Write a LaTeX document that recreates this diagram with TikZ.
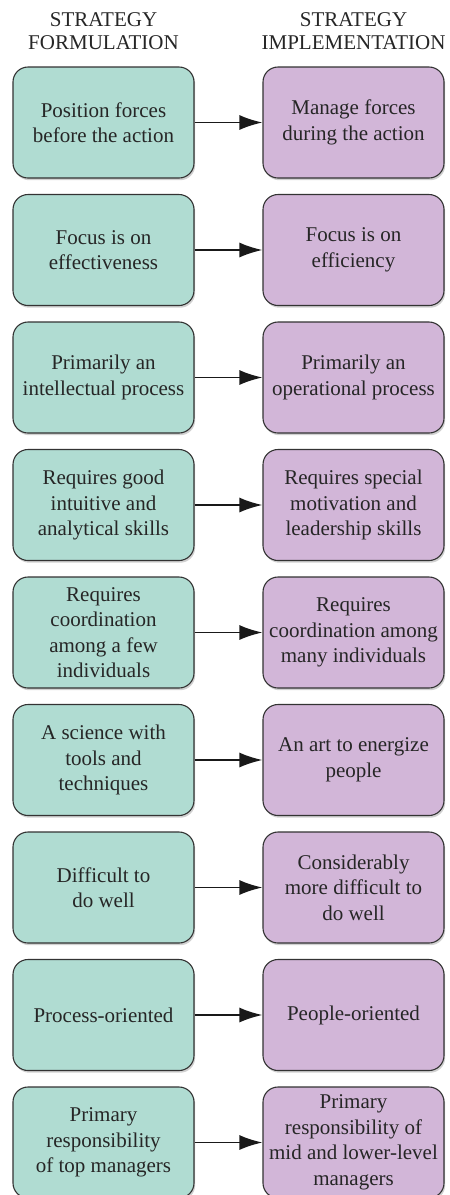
\documentclass[tikz,border=0pt]{standalone}
\usepackage{fontspec}
\setmainfont{Liberation Serif}
\usetikzlibrary{arrows.meta,shadows}
\definecolor{fgreen}{RGB}{176,220,210}
\definecolor{fpurple}{RGB}{210,182,216}
\tikzset{
  boxbase/.style={draw=black!80, line width=1.1pt, rounded corners=15pt,
    minimum width=181pt, minimum height=111pt, align=center, inner sep=2pt,
    font=\fontsize{21pt}{25.5pt}\selectfont, text=black!85,
    drop shadow={shadow xshift=1.2pt, shadow yshift=-2.2pt, opacity=0.3, fill=black!60}},
  formbox/.style={boxbase, fill=fgreen},
  implbox/.style={boxbase, fill=fpurple},
  hdr/.style={align=center, inner sep=0pt, font=\fontsize{21pt}{23pt}\selectfont, text=black!85},
  conn/.style={line width=1.8pt, black!90, -{Latex[length=23pt,width=15pt]}}
}
\begin{document}
\begin{tikzpicture}[x=1pt,y=1pt]
\useasboundingbox (0,0) rectangle (450,-1195);
\node[hdr] (h1) at (103.5,-31) {STRATEGY\\FORMULATION};
\node[hdr] (h2) at (353.5,-31) {STRATEGY\\IMPLEMENTATION};
\foreach \i/\l/\r in {
 0/{Position forces\\before the action}/{Manage forces\\during the action},
 1/{Focus is on\\effectiveness}/{Focus is on\\efficiency},
 2/{Primarily an\\intellectual process}/{Primarily an\\operational process},
 3/{Requires good\\intuitive and\\analytical skills}/{Requires special\\motivation and\\leadership skills},
 4/{Requires\\coordination\\among a few\\individuals}/{Requires\\coordination among\\many individuals},
 5/{A science with\\tools and\\techniques}/{An art to energize\\people},
 6/{Difficult to\\do well}/{Considerably\\more difficult to\\do well},
 7/{Process-oriented}/{People-oriented},
 8/{Primary\\responsibility\\of top managers}/{Primary\\responsibility of\\mid and lower-level\\managers}} {
  \node[formbox] (f\i) at (103.5,{-122.5-127.5*\i}) {\l};
  \node[implbox] (m\i) at (353.5,{-122.5-127.5*\i}) {\r};
  \draw[conn] (f\i.east) -- (m\i.west);
}
\end{tikzpicture}
\end{document}
